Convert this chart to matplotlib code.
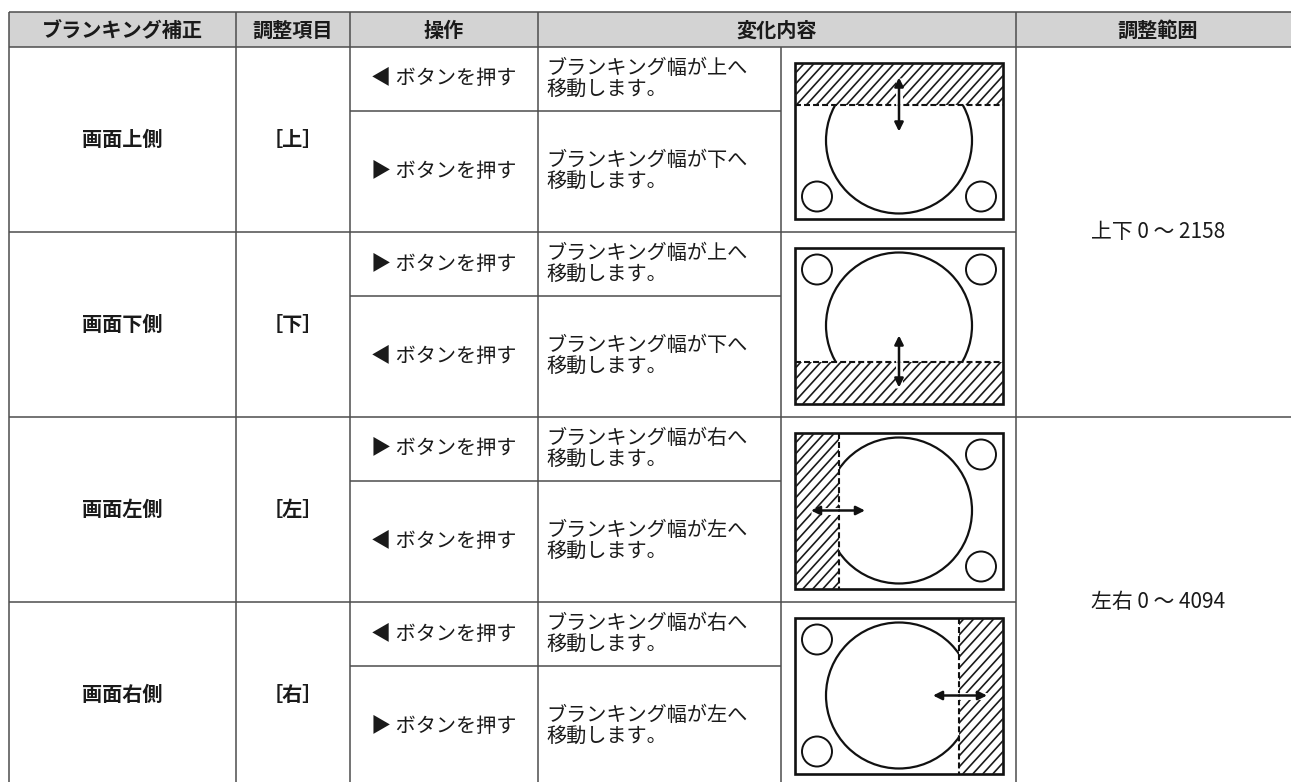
import matplotlib.pyplot as plt
from matplotlib.patches import Rectangle, Circle

plt.rcParams['font.family'] = ['Noto Sans CJK JP', 'DejaVu Sans']
plt.rcParams['lines.scale_dashes'] = False

# table content
headers = ['ブランキング補正', '調整項目', '操作', '変化内容', '調整範囲']
sides = ['画面上側', '画面下側', '画面左側', '画面右側']
items = ['［上］', '［下］', '［左］', '［右］']
operations = [['◀ ボタンを押す', '▶ ボタンを押す'],
              ['▶ ボタンを押す', '◀ ボタンを押す'],
              ['▶ ボタンを押す', '◀ ボタンを押す'],
              ['◀ ボタンを押す', '▶ ボタンを押す']]
results = [['ブランキング幅が上へ\n移動します。', 'ブランキング幅が下へ\n移動します。'],
           ['ブランキング幅が上へ\n移動します。', 'ブランキング幅が下へ\n移動します。'],
           ['ブランキング幅が右へ\n移動します。', 'ブランキング幅が左へ\n移動します。'],
           ['ブランキング幅が右へ\n移動します。', 'ブランキング幅が左へ\n移動します。']]
band_side = ['top', 'bottom', 'left', 'right']
ranges = ['上下 0 ～ 2158', '左右 0 ～ 4094']

# layout (pixels)
col_x = [9, 236, 350, 538, 781, 1016, 1300]
head_top, head_bot = 12, 47
group_h, sub_h = 185, 64
line_c = '#4d4d4d'
lw_t = 1.1
fs = 14.5

fig = plt.figure(figsize=(12.91, 7.82), dpi=100)
ax = fig.add_axes([0, 0, 1, 1])
ax.set_xlim(0, 1291)
ax.set_ylim(782, 0)
ax.axis('off')

def hline(y, x0, x1):
    ax.plot([x0, x1], [y, y], color=line_c, lw=lw_t, solid_capstyle='butt')

def vline(x, y0, y1):
    ax.plot([x, x], [y0, y1], color=line_c, lw=lw_t, solid_capstyle='butt')

# header
ax.add_patch(Rectangle((col_x[0], head_top), col_x[-1] - col_x[0], head_bot - head_top,
                       facecolor='#d3d3d3', edgecolor='none'))
head_spans = [(0, 1), (1, 2), (2, 3), (3, 5), (5, 6)]
for h, (a, b) in zip(headers, head_spans):
    ax.text((col_x[a] + col_x[b]) / 2, (head_top + head_bot) / 2 + 1, h,
            ha='center', va='center', fontsize=fs, fontweight='bold', color='#1a1a1a')

n = len(sides)
bottom = head_bot + n * group_h
hline(head_top, col_x[0], col_x[-1])
hline(head_bot, col_x[0], col_x[-1])
for x in [col_x[0], col_x[1], col_x[2], col_x[3], col_x[5], col_x[6]]:
    vline(x, head_top, bottom)
vline(col_x[4], head_bot, bottom)


def draw_diagram(cx, cy, side):
    W, H = 208, 156
    x0, y0 = cx - W / 2, cy - H / 2
    bt = 42 if side in ('top', 'bottom') else 44
    if side == 'top':
        band = (x0, y0, W, bt)
        rest = (x0, y0 + bt, W, H - bt)
        dash = ([x0, x0 + W], [y0 + bt, y0 + bt])
        p = (cx, y0 + bt)
        ends = [(cx, y0 + bt - 27), (cx, y0 + bt + 27)]
        smalls = [(cx - 82, cy + 56), (cx + 82, cy + 56)]
    elif side == 'bottom':
        band = (x0, y0 + H - bt, W, bt)
        rest = (x0, y0, W, H - bt)
        dash = ([x0, x0 + W], [y0 + H - bt, y0 + H - bt])
        p = (cx, y0 + H - bt)
        ends = [(cx, p[1] - 26), (cx, p[1] + 26)]
        smalls = [(cx - 82, cy - 56), (cx + 82, cy - 56)]
    elif side == 'left':
        band = (x0, y0, bt, H)
        rest = (x0 + bt, y0, W - bt, H)
        dash = ([x0 + bt, x0 + bt], [y0, y0 + H])
        p = (x0 + bt, cy)
        ends = [(p[0] - 28, cy), (p[0] + 26, cy)]
        smalls = [(cx + 82, cy - 56), (cx + 82, cy + 56)]
    else:
        band = (x0 + W - bt, y0, bt, H)
        rest = (x0, y0, W - bt, H)
        dash = ([x0 + W - bt, x0 + W - bt], [y0, y0 + H])
        p = (x0 + W - bt, cy)
        ends = [(p[0] - 26, cy), (p[0] + 28, cy)]
        smalls = [(cx - 82, cy - 56), (cx - 82, cy + 56)]

    # hatch
    clip_band = Rectangle(band[:2], band[2], band[3], transform=ax.transData)
    slope = 1.1
    k = -H / slope - 10
    while k < W + 10:
        ln, = ax.plot([x0 + k, x0 + k + H / slope], [y0 + H, y0], color='#1a1a1a', lw=1.2)
        ln.set_clip_path(clip_band)
        k += 10
    # big circle outside band
    clip_rest = Rectangle(rest[:2], rest[2], rest[3], transform=ax.transData)
    c = Circle((cx, cy), 73, fill=False, edgecolor='#111111', lw=1.6)
    ax.add_patch(c)
    c.set_clip_path(clip_rest)
    for sx, sy in smalls:
        ax.add_patch(Circle((sx, sy), 15, fill=False, edgecolor='#111111', lw=1.4))
    ax.plot(dash[0], dash[1], color='#111111', lw=1.5, dashes=(4.3, 2.2))
    ax.add_patch(Rectangle((x0, y0), W, H, fill=False, edgecolor='#111111', lw=1.9))
    for e in ends:
        ax.plot([p[0], e[0]], [p[1], e[1]], color='white', lw=5, solid_capstyle='butt')
    for e in ends:
        ax.annotate('', xy=e, xytext=p,
                    arrowprops=dict(arrowstyle='-|>', color='#111111', lw=1.8,
                                    mutation_scale=13, shrinkA=0, shrinkB=0))


for i in range(n):
    g0 = head_bot + i * group_h
    g1 = g0 + group_h
    gm = (g0 + g1) / 2
    if i < n - 1:
        hline(g1, col_x[0], col_x[5] if i % 2 == 0 else col_x[6])
    hline(g0 + sub_h, col_x[2], col_x[4])
    ax.text((col_x[0] + col_x[1]) / 2, gm, sides[i], ha='center', va='center',
            fontsize=fs, fontweight='bold', color='#1a1a1a')
    ax.text((col_x[1] + col_x[2]) / 2, gm, items[i], ha='center', va='center',
            fontsize=fs, fontweight='bold', color='#1a1a1a')
    subs = [(g0, g0 + sub_h), (g0 + sub_h, g1)]
    for j, (s0, s1) in enumerate(subs):
        sm = (s0 + s1) / 2
        ax.text((col_x[2] + col_x[3]) / 2, sm, operations[i][j], ha='center', va='center',
                fontsize=fs, color='#1a1a1a')
        ax.text(col_x[3] + 8, sm, results[i][j], ha='left', va='center',
                fontsize=fs, linespacing=1.05, color='#1a1a1a')
    draw_diagram((col_x[4] + col_x[5]) / 2 + 0.5, gm + 1, band_side[i])
hline(bottom, col_x[0], col_x[-1])

for k, r in enumerate(ranges):
    r0 = head_bot + 2 * k * group_h
    ax.text((col_x[5] + col_x[6]) / 2, r0 + group_h, r, ha='center', va='center',
            fontsize=15, color='#1a1a1a')

fig.savefig('out.png', dpi=100)
